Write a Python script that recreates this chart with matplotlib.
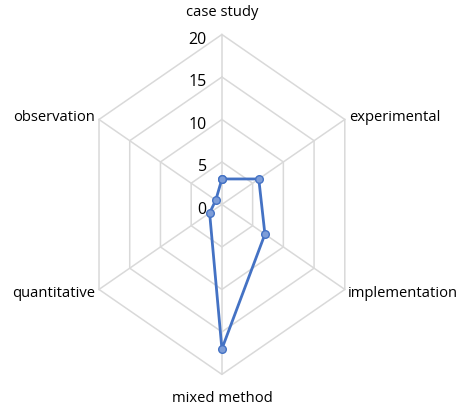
import numpy as np
import matplotlib
matplotlib.use('Agg')
import matplotlib.pyplot as plt

categories = ['case study', 'experimental', 'implementation',
              'mixed method', 'quantitative', 'observation']
counts = [3, 6, 7, 17, 2, 1]
levels = [0, 5, 10, 15, 20]

plt.rcParams['font.family'] = ['Open Sans', 'DejaVu Sans']

fig = plt.figure(figsize=(4.6, 4.1), dpi=100)
ax = fig.add_axes([0.1739, 0.0844, 0.617, 0.829], projection='polar')
ax.set_aspect('auto')
ax.set_theta_offset(np.pi / 2)
ax.set_theta_direction(-1)
ax.set_ylim(0, levels[-1])
ax.grid(False)
ax.spines['polar'].set_visible(False)
ax.set_xticks([])
ax.set_yticks([])
ax.patch.set_alpha(0)

angles = [2 * np.pi * i / len(categories) for i in range(len(categories))]
ring = angles + [angles[0]]

grid_col = '#d9d9d9'
for lvl in levels[1:]:
    ax.plot(ring, [lvl] * len(ring), color=grid_col, lw=1.1, clip_on=False, zorder=1)
for a in angles:
    ax.plot([a, a], [0, levels[-1]], color=grid_col, lw=1.1, clip_on=False, zorder=1)

# value labels along the top spoke
for lvl in levels:
    ax.annotate(str(lvl), xy=(0, lvl), xytext=(-11, -3), textcoords='offset points',
                ha='right', va='center', fontsize=11.5, color='#000000')

# category labels around the outside
offsets = [(0, 11, 'center', 'bottom'), (3, 2, 'left', 'center'),
           (2.5, -2, 'left', 'center'), (0, -11, 'center', 'top'),
           (-3, -2, 'right', 'center'), (-3, 2, 'right', 'center')]
for a, name, (dx, dy, ha, va) in zip(angles, categories, offsets):
    ax.annotate(name, xy=(a, levels[-1]), xytext=(dx, dy), textcoords='offset points',
                ha=ha, va=va, fontsize=10.6, color='#000000', annotation_clip=False)

ax.plot(ring, counts + [counts[0]], color='#4472c4', lw=2, marker='o', markersize=5.5,
        markerfacecolor='#7d9dd8', markeredgecolor='#4472c4', markeredgewidth=1,
        clip_on=False, zorder=3)

fig.savefig('out.png', dpi=100)
